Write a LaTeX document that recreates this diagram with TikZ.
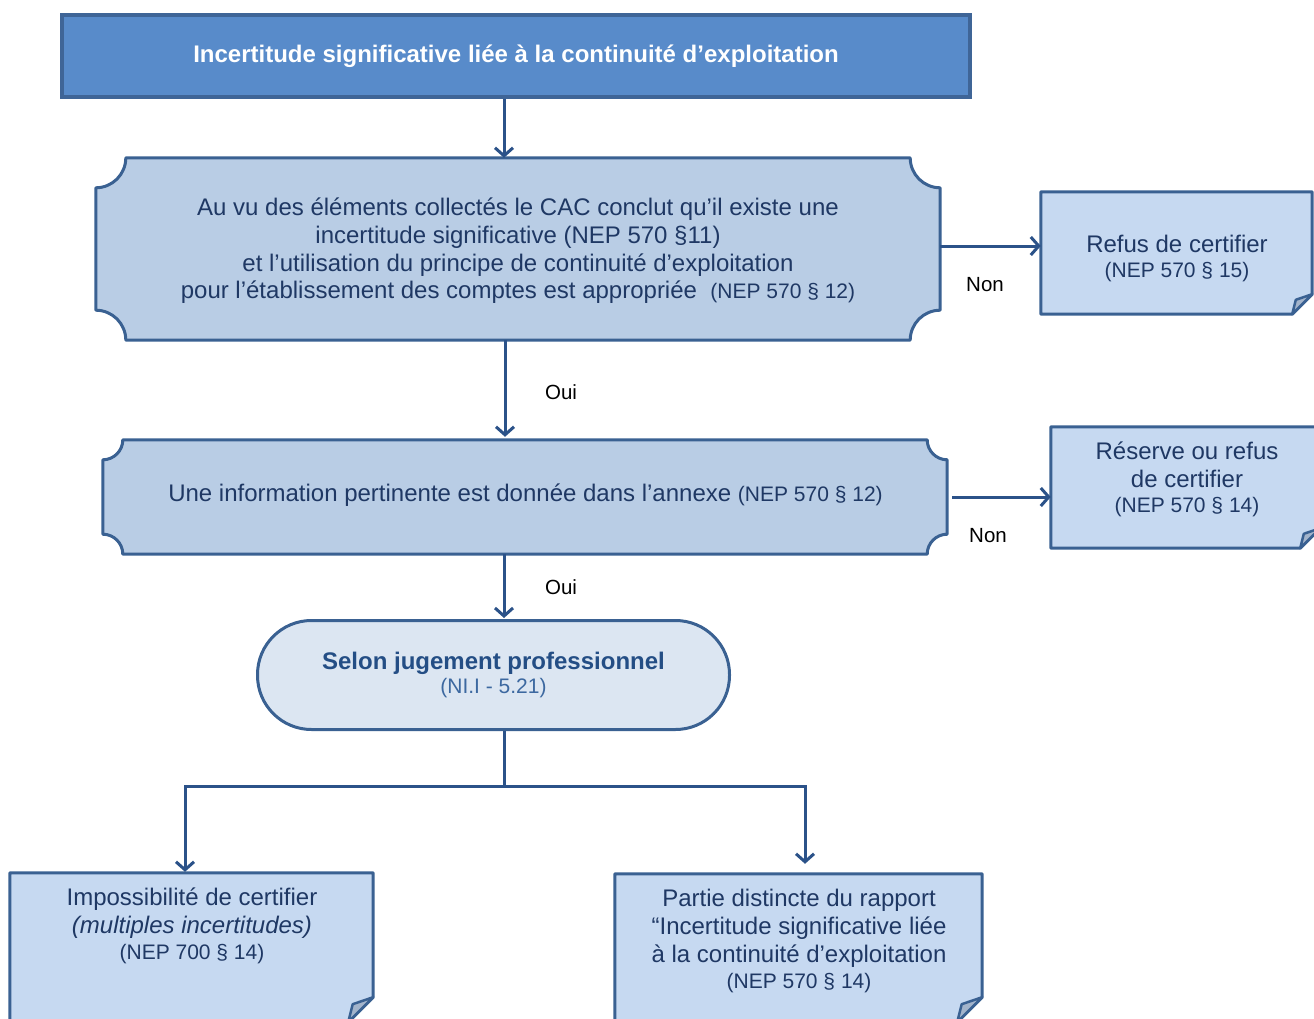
\documentclass[tikz,border=0pt]{standalone}
\usepackage{fontspec}
\setmainfont{Liberation Sans}
\usetikzlibrary{calc,arrows.meta}
\definecolor{topfill}{HTML}{588BCA}
\definecolor{topline}{HTML}{3F6597}
\definecolor{plqfill}{HTML}{B9CDE5}
\definecolor{edgec}{HTML}{3A6192}
\definecolor{notefill}{HTML}{C6D9F1}
\definecolor{foldfill}{HTML}{A3B4CB}
\definecolor{stfill}{HTML}{DCE6F2}
\definecolor{ink}{HTML}{1F3864}
\definecolor{stink}{HTML}{244E85}
\definecolor{stsub}{HTML}{3C68A0}
\definecolor{arrowc}{HTML}{2B5289}
\newcommand{\fsmain}{\fontsize{24}{27.7}\selectfont}
\newcommand{\fssmall}{\fontsize{21}{25}\selectfont}
\newcommand{\plaquedraw}[2]{%
  \path[plq] let \p1=(#1.north west), \p2=(#1.south east) in
   (\x1+#2,\y1) -- (\x2-#2,\y1) arc[start angle=180,end angle=270,radius=#2]
   -- (\x2,\y2+#2) arc[start angle=90,end angle=180,radius=#2]
   -- (\x1+#2,\y2) arc[start angle=0,end angle=90,radius=#2]
   -- (\x1,\y1-#2) arc[start angle=270,end angle=360,radius=#2] -- cycle;}
\newcommand{\notedraw}[2]{%
  \path[notebox] let \p1=(#1.north west), \p2=(#1.south east) in
   (\x1,\y1) -- (\x2,\y1) -- (\x2,\y2+#2) -- (\x2-#2,\y2) -- (\x1,\y2) -- cycle;
  \path[foldtri] let \p1=(#1.north west), \p2=(#1.south east) in
   (\x2,\y2+#2) -- (\x2-0.82*#2,\y2+0.72*#2) -- (\x2-#2,\y2) -- cycle;}
\tikzset{
  geom/.style={shape=rectangle,inner sep=0pt,draw=none},
  plq/.style={fill=plqfill,draw=edgec,line width=3pt,line join=round},
  notebox/.style={fill=notefill,draw=edgec,line width=3pt,line join=round},
  foldtri/.style={fill=foldfill,draw=edgec,line width=2.5pt,line join=round},
  txt/.style={text=ink,align=center,font=\fsmain,inner sep=0pt,yshift=-2.5pt},
  lbl/.style={text=black,font=\fontsize{20.5}{24}\selectfont,inner sep=0pt},
  arr/.style={draw=arrowc,line width=3pt,-{Straight Barb[length=8pt,width=18pt]}},
  conn/.style={draw=arrowc,line width=3pt},
}
\begin{document}
\begin{tikzpicture}[x=1pt,y=1pt]
\useasboundingbox (0,0) rectangle (1314,-1019);
\clip (0,0) rectangle (1314,-1019);
\fill[white] (0,0) rectangle (1314,-1019);
% geometry
\node[geom,minimum width=844pt,minimum height=182pt] (p1) at (518,-249) {};
\node[geom,minimum width=271pt,minimum height=122pt] (refus) at (1176.5,-253) {};
\node[geom,minimum width=844pt,minimum height=114pt] (p2) at (525,-497) {};
\node[geom,minimum width=269pt,minimum height=121pt] (reserve) at (1185.5,-487.5) {};
\node[geom,minimum width=363pt,minimum height=149pt] (bl) at (191.5,-947.5) {};
\node[geom,minimum width=367pt,minimum height=148pt] (br) at (798.5,-948) {};
% shapes
\node[fill=topfill,draw=topline,line width=4pt,minimum width=908pt,minimum height=82pt,inner sep=0pt,
      text=white,font=\bfseries\fontsize{24}{27}\selectfont] (top) at (516,-56) {Incertitude significative liée à la continuité d’exploitation};
\plaquedraw{p1}{30pt}
\plaquedraw{p2}{20pt}
\notedraw{refus}{20pt}
\notedraw{reserve}{20pt}
\notedraw{bl}{25pt}
\notedraw{br}{25pt}
\node[fill=stfill,draw=edgec,line width=3pt,minimum width=472pt,minimum height=109pt,rounded corners=54pt,
      align=center,inner sep=0pt] (st) at (493.5,-675)
  {{\color{stink}\bfseries\fontsize{24}{26}\selectfont Selon jugement professionnel}\\[3pt]
   {\color{stsub}\fssmall (NI.I - 5.21)}};
% texts
\node[txt] (p1t) at (518,-248.5) {Au vu des éléments collectés le CAC conclut qu’il existe une\\
  incertitude significative (NEP 570 §11)\\
  et l’utilisation du principe de continuité d’exploitation\\
  pour l’établissement des comptes est appropriée\ \ {\fssmall(NEP 570 § 12)}};
\node[txt] (refust) at (1177,-256) {Refus de certifier\\[-2pt]{\fssmall(NEP 570 § 15)}};
\node[txt] (p2t) at (525.5,-493) {Une information pertinente est donnée dans l’annexe {\fssmall(NEP 570 § 12)}};
\node[txt] (reservet) at (1187,-477) {Réserve ou refus\\de certifier\\[-2pt]{\fssmall(NEP 570 § 14)}};
\node[txt] (blt) at (192,-923.5) {Impossibilité de certifier\\\itshape(multiples incertitudes)\\[-1pt]{\fssmall(NEP 700 § 14)}};
\node[txt] (brt) at (799,-938.5) {Partie distincte du rapport\\“Incertitude significative liée\\à la continuité d’exploitation\\[-2pt]{\fssmall(NEP 570 § 14)}};
% labels
\node[lbl] (non1) at (985,-285) {Non};
\node[lbl] (non2) at (988,-536) {Non};
\node[lbl] (oui1) at (561,-392) {Oui};
\node[lbl] (oui2) at (561,-587) {Oui};
% connectors
\draw[arr] ([xshift=-12pt]top.south) -- ([xshift=-12pt]top.south |- p1.north);
\draw[arr] ([yshift=3pt]p1.east) -- ([yshift=3pt]p1.east -| refus.west);
\draw[arr] ([xshift=-13pt]p1.south) -- ([xshift=-13pt,yshift=3pt]p1.south |- p2.north);
\draw[arr] ([xshift=5pt]p2.east) -- (p2.east -| reserve.west);
\draw[arr] ([xshift=-21pt]p2.south) -- ([xshift=-21pt,yshift=1pt]p2.south |- st.north);
\coordinate (split) at (504,-786);
\draw[conn] (st.south -| split) -- (split);
\draw[arr] (split) -| ([xshift=-6.5pt,yshift=1pt]bl.north);
\draw[arr] (split) -| ([xshift=6.5pt,yshift=10pt]br.north);
\end{tikzpicture}
\end{document}
